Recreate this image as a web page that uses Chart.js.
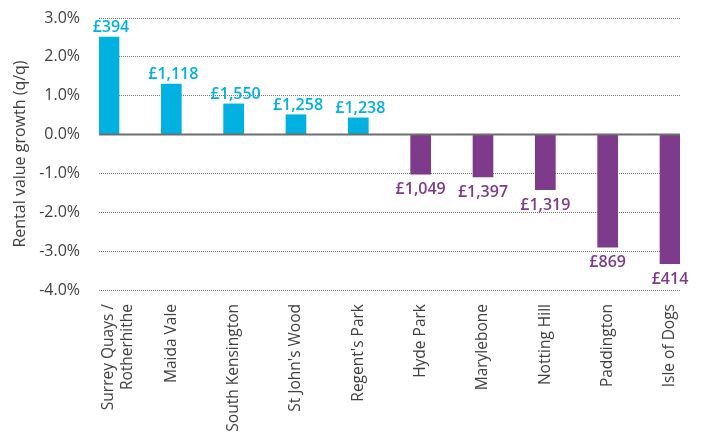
<!DOCTYPE html>
<html>
<head>
<meta charset="utf-8">
<script src="https://cdn.jsdelivr.net/npm/chart.js@4"></script>
<style>
  html, body { margin: 0; padding: 0; background: #fff; }
  #wrap { width: 703px; height: 434px; }
</style>
</head>
<body>
<div id="wrap"><canvas id="rentChart" width="703" height="434"></canvas></div>
<script>
// Chart data
const areas = [['Surrey Quays /', 'Rotherhithe'], 'Maida Vale', 'South Kensington', "St John's Wood", "Regent's Park",
    'Hyde Park', 'Marylebone', 'Notting Hill', 'Paddington', 'Isle of Dogs'];
const growth = [2.51, 1.30, 0.79, 0.51, 0.43, -1.02, -1.09, -1.42, -2.90, -3.32];
const rents = [394, 1118, 1550, 1258, 1238, 1049, 1397, 1319, 869, 414];
const yTicks = [-4, -3, -2, -1, 0, 1, 2, 3];

const upColor = '#00B1E1';
const downColor = '#7E3A8B';
const textColor = '#404040';
const fontFamily = '"Open Sans", "Noto Sans", sans-serif';

// zero line + rent labels on each bar
const barLabels = {
    id: 'barLabels',
    afterDatasetsDraw(chart) {
        const ctx = chart.ctx;
        const area = chart.chartArea;
        const y0 = chart.scales.y.getPixelForValue(0);
        ctx.save();
        ctx.strokeStyle = '#6e6e6e';
        ctx.lineWidth = 2;
        ctx.beginPath();
        ctx.moveTo(area.left, y0);
        ctx.lineTo(area.right, y0);
        ctx.stroke();

        ctx.font = '600 16px ' + fontFamily;
        ctx.textAlign = 'center';
        ctx.textBaseline = 'alphabetic';
        chart.getDatasetMeta(0).data.forEach((bar, i) => {
            const txt = '£' + rents[i].toLocaleString('en-GB');
            if (growth[i] >= 0) {
                ctx.fillStyle = upColor;
                ctx.fillText(txt, bar.x + 2, bar.y - 5);
            } else {
                ctx.fillStyle = downColor;
                ctx.fillText(txt, bar.x, bar.y + 20);
            }
        });
        ctx.restore();
    }
};

new Chart(document.getElementById('rentChart').getContext('2d'), {
    type: 'bar',
    data: {
        datasets: [{
            data: growth.map((v, i) => ({ x: i, y: v })),
            backgroundColor: growth.map(v => v >= 0 ? upColor : downColor),
            barThickness: 20,
            borderWidth: 0
        }]
    },
    options: {
        responsive: false,
        animation: false,
        layout: { padding: { top: 18, right: 23, left: 0, bottom: 0 } },
        plugins: {
            legend: { display: false },
            tooltip: { enabled: false }
        },
        scales: {
            x: {
                type: 'linear',
                min: -0.16,
                max: areas.length - 1 + 0.16,
                offset: false,
                grid: { display: false, drawTicks: false },
                border: { display: false },
                afterBuildTicks: scale => { scale.ticks = areas.map((a, i) => ({ value: i })); },
                afterFit: scale => { scale.height = 144; },
                ticks: {
                    autoSkip: false,
                    minRotation: 90,
                    maxRotation: 90,
                    padding: 14,
                    color: textColor,
                    font: { family: fontFamily, size: 15.5 },
                    callback: v => areas[v]
                }
            },
            y: {
                min: -4,
                max: 3,
                afterBuildTicks: scale => { scale.ticks = yTicks.map(v => ({ value: v })); },
                afterFit: scale => {
                    scale.width = 99;
                    scale.paddingTop = 0;
                    scale.paddingBottom = 0;
                },
                grid: { color: '#7a7a7a', lineWidth: 1, drawTicks: false },
                border: { display: false, dash: [1, 1] },
                ticks: {
                    padding: 19,
                    color: textColor,
                    font: { family: fontFamily, size: 16 },
                    callback: v => v.toFixed(1) + '%'
                },
                title: {
                    display: true,
                    text: 'Rental value growth (q/q)',
                    color: textColor,
                    font: { family: fontFamily, size: 16 },
                    padding: { top: 11, bottom: 0 }
                }
            }
        }
    },
    plugins: [barLabels]
});
</script>
</body>
</html>
